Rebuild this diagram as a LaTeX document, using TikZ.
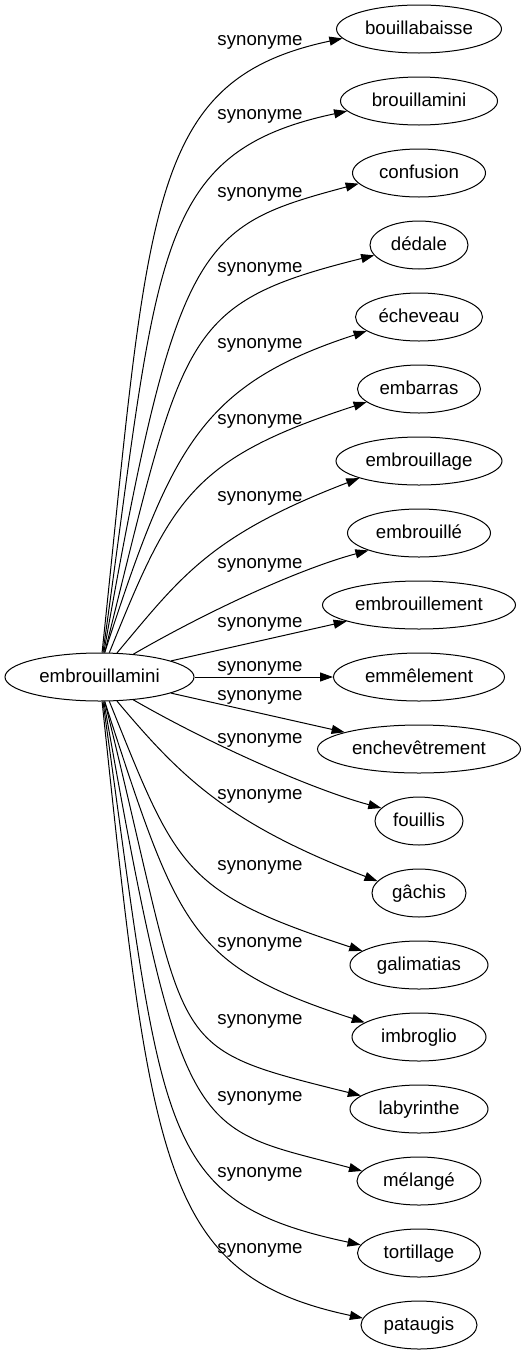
\documentclass[tikz,border=0pt]{standalone}
\usepackage{fontspec}
\setmainfont{Liberation Sans}
\usetikzlibrary{arrows.meta,shapes.geometric}
\begin{document}
\begin{tikzpicture}[x=1pt,y=1pt,
  every node/.style={font=\fontsize{18.67}{22}\selectfont,text height=14pt,text depth=3pt},
  word/.style={ellipse,draw,line width=1pt,minimum height=48pt,minimum width=#1,inner xsep=0pt,inner ysep=1pt},
  syn/.style={line width=1pt,-{Triangle[length=13pt,width=9pt]}}]
\useasboundingbox (0,0) rectangle (525,-1355);
\node[word=189pt] (root) at (99.5,-677) {embrouillamini};
\node[word=165pt] (bouil) at (419,-29) {bouillabaisse};
\node[word=157pt] (brouil) at (419,-101) {brouillamini};
\node[word=133pt] (conf) at (419,-173) {confusion};
\node[word=98pt] (ded) at (419,-245) {dédale};
\node[word=127pt] (ech) at (419,-317) {écheveau};
\node[word=123pt] (embar) at (419,-389) {embarras};
\node[word=166pt] (embage) at (419,-461) {embrouillage};
\node[word=143pt] (embe) at (419,-533) {embrouillé};
\node[word=193pt] (embment) at (419,-605) {embrouillement};
\node[word=171pt] (emmel) at (419,-677) {emmêlement};
\node[word=203pt] (ench) at (419,-749) {enchevêtrement};
\node[word=88pt] (fouil) at (419,-821) {fouillis};
\node[word=94pt] (gach) at (419,-893) {gâchis};
\node[word=138pt] (gali) at (419,-965) {galimatias};
\node[word=134pt] (imbro) at (419,-1037) {imbroglio};
\node[word=138pt] (laby) at (419,-1109) {labyrinthe};
\node[word=124pt] (melan) at (419,-1181) {mélangé};
\node[word=123pt] (tort) at (419,-1253) {tortillage};
\node[word=116pt] (patau) at (419,-1325) {pataugis};
\node (s0) at (260,-40) {synonyme};
\node (s1) at (260,-114) {synonyme};
\node (s2) at (260,-192) {synonyme};
\node (s3) at (260,-267) {synonyme};
\node (s4) at (260,-343) {synonyme};
\node (s5) at (260,-419) {synonyme};
\node (s6) at (260,-496) {synonyme};
\node (s7) at (260,-563) {synonyme};
\node (s8) at (260,-622) {synonyme};
\node (s9) at (260,-666) {synonyme};
\node (s10) at (260,-695) {synonyme};
\node (s11) at (260,-738) {synonyme};
\node (s12) at (260,-794) {synonyme};
\node (s13) at (260,-865) {synonyme};
\node (s14) at (260,-942) {synonyme};
\node (s15) at (260,-1019) {synonyme};
\node (s16) at (260,-1096) {synonyme};
\node (s17) at (260,-1172) {synonyme};
\node (s18) at (260,-1248) {synonyme};
\draw[syn] (root.84) to[out=84,in=192,out distance=450pt,in distance=200pt] (bouil.187);
\draw[syn] (root.82) to[out=82,in=192,out distance=400pt,in distance=200pt] (brouil.188);
\draw[syn] (root.80) to[out=80,in=195,out distance=420pt,in distance=165pt] (conf.190);
\draw[syn] (root.78) to[out=76,in=194,out distance=330pt,in distance=200pt] (ded.193);
\draw[syn] (root.78) to[out=72,in=198,out distance=215pt,in distance=175pt] (ech.195);
\draw[syn] (root.68) to[out=68,in=198,out distance=166pt,in distance=185pt] (embar.194);
\draw[syn] (root.54) to[out=50,in=201,out distance=100pt,in distance=160pt] (embage.196);
\draw[syn] (root.34) to[out=30,in=195,out distance=90pt,in distance=70pt] (embe.199);
\draw[syn] (root) -- (embment);
\draw[syn] (root) -- (emmel);
\draw[syn] (root) -- (ench);
\draw[syn] (root.326) to[out=330,in=165,out distance=90pt,in distance=70pt] (fouil.161);
\draw[syn] (root.306) to[out=310,in=159,out distance=100pt,in distance=160pt] (gach.164);
\draw[syn] (root.292) to[out=292,in=162,out distance=180pt,in distance=190pt] (gali.166);
\draw[syn] (root.282) to[out=288,in=162,out distance=240pt,in distance=185pt] (imbro.165);
\draw[syn] (root.282) to[out=284,in=166,out distance=365pt,in distance=210pt] (laby.167);
\draw[syn] (root.280) to[out=280,in=165,out distance=455pt,in distance=175pt] (melan.170);
\draw[syn] (root.278) to[out=278,in=168,out distance=435pt,in distance=210pt] (tort.172);
\draw[syn] (root.276) to[out=276,in=168,out distance=470pt,in distance=205pt] (patau.173);
\end{tikzpicture}
\end{document}
